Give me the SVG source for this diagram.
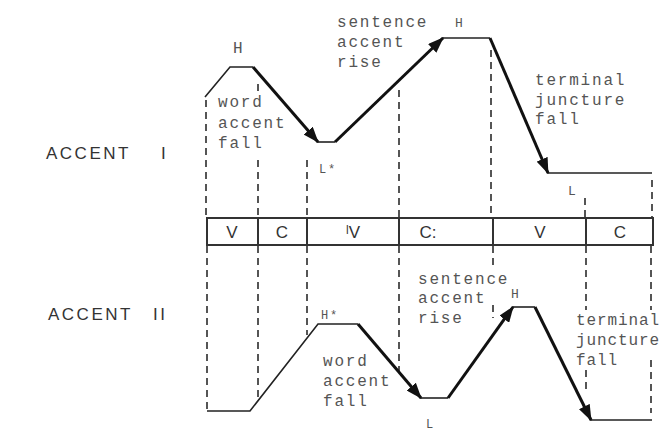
<svg xmlns="http://www.w3.org/2000/svg" width="664" height="432" viewBox="0 0 664 432">
<style>
.lbl{font-family:"Liberation Mono","DejaVu Sans Mono",monospace;font-size:16px;letter-spacing:1.8px;fill:#555}
.tight{letter-spacing:0.9px}
.ttl{font-family:"Liberation Sans",Arial,sans-serif;font-size:17px;letter-spacing:2.5px;fill:#333}
.seg{font-family:"Liberation Sans",Arial,sans-serif;font-size:17px;fill:#333}
.dash{stroke:#555;stroke-width:2;stroke-dasharray:7 5;fill:none}
.contour{stroke:#222;stroke-width:1.6;fill:none}
.arr{stroke:#111;stroke-width:3;fill:none;marker-end:url(#ah)}
.box{stroke:#333;stroke-width:2;fill:none}
</style>
<defs>
<marker id="ah" markerUnits="userSpaceOnUse" markerWidth="16" markerHeight="12" refX="15" refY="6" orient="auto">
<path d="M0,0 L16,6 L0,12 z" fill="#111"/>
</marker>
</defs>
<rect width="664" height="432" fill="#fff"/>

<g id="titles">
<text class="ttl" x="46" y="159">ACCENT</text>
<text class="ttl" x="161" y="159">I</text>
<text class="ttl" x="48" y="320">ACCENT</text>
<text class="ttl" x="153" y="320">II</text>
</g>

<g id="segments">
<rect class="box" x="207" y="218" width="446" height="27"/>
<line class="box" x1="258" y1="218" x2="258" y2="245"/>
<line class="box" x1="307" y1="218" x2="307" y2="245"/>
<line class="box" x1="399" y1="218" x2="399" y2="245"/>
<line class="box" x1="493" y1="218" x2="493" y2="245"/>
<line class="box" x1="586" y1="218" x2="586" y2="245"/>
<text class="seg" x="232" y="238" text-anchor="middle">V</text>
<text class="seg" x="282" y="238" text-anchor="middle">C</text>
<text class="seg" x="353" y="238" text-anchor="middle">ˡV</text>
<text class="seg" x="428" y="238" text-anchor="middle">C:</text>
<text class="seg" x="540" y="238" text-anchor="middle">V</text>
<text class="seg" x="620" y="238" text-anchor="middle">C</text>
</g>

<g id="guides">
<line class="dash" x1="206" y1="100" x2="206" y2="217"/>
<line class="dash" x1="258" y1="84" x2="258" y2="95"/>
<line class="dash" x1="258" y1="160" x2="258" y2="217"/>
<line class="dash" x1="307" y1="160" x2="307" y2="217"/>
<line class="dash" x1="399" y1="90" x2="399" y2="217"/>
<line class="dash" x1="491" y1="50" x2="491" y2="217"/>
<line class="dash" x1="585" y1="198" x2="585" y2="217"/>
<line class="dash" x1="652" y1="180" x2="652" y2="217"/>
<line class="dash" x1="207" y1="246" x2="207" y2="410"/>
<line class="dash" x1="258" y1="246" x2="258" y2="400"/>
<line class="dash" x1="307" y1="246" x2="307" y2="335"/>
<line class="dash" x1="399" y1="246" x2="399" y2="375"/>
<line class="dash" x1="493" y1="246" x2="493" y2="268"/>
<line class="dash" x1="493" y1="305" x2="493" y2="318"/>
<line class="dash" x1="586" y1="246" x2="586" y2="310"/>
<line class="dash" x1="586" y1="370" x2="586" y2="392"/>
<line class="dash" x1="651" y1="246" x2="651" y2="310"/>
<line class="dash" x1="651" y1="360" x2="651" y2="413"/>
</g>

<g id="accent1-contour">
<polyline class="contour" points="205,97 230,67 253,67"/>
<polyline class="contour" points="317,142 335,142"/>
<polyline class="contour" points="442,38 490,38"/>
<polyline class="contour" points="547,173 652,173"/>
</g>
<g id="accent2-contour">
<polyline class="contour" points="207,411 250,411 318,324 358,324"/>
<polyline class="contour" points="420,398 448,398"/>
<polyline class="contour" points="512,307 535,307"/>
<polyline class="contour" points="590,420 652,420"/>
</g>

<g id="connectors">
<line class="arr" x1="253" y1="67" x2="318" y2="142"/>
<line class="arr" x1="335" y1="142" x2="443" y2="38"/>
<line class="arr" x1="490" y1="38" x2="548" y2="173"/>
<line class="arr" x1="358" y1="324" x2="421" y2="398"/>
<line class="arr" x1="448" y1="398" x2="513" y2="307"/>
<line class="arr" x1="535" y1="307" x2="591" y2="420"/>
</g>

<g id="labels1">
<text class="lbl" x="233" y="53">H</text>
<text class="lbl" x="218" y="107">word</text>
<text class="lbl" x="218" y="128">accent</text>
<text class="lbl" x="218" y="148">fall</text>
<text class="lbl" x="319" y="173" style="font-size:12px">L*</text>
<text class="lbl" x="337" y="27">sentence</text>
<text class="lbl" x="337" y="47">accent</text>
<text class="lbl" x="337" y="67">rise</text>
<text class="lbl" x="455" y="27" style="font-size:13px">H</text>
<text class="lbl" x="535" y="85">terminal</text>
<text class="lbl" x="535" y="105">juncture</text>
<text class="lbl" x="535" y="124">fall</text>
<text class="lbl" x="568" y="195" style="font-size:13px">L</text>
</g>
<g id="labels2">
<text class="lbl" x="321" y="319" style="font-size:12px">H*</text>
<text class="lbl" x="323" y="366">word</text>
<text class="lbl" x="323" y="386">accent</text>
<text class="lbl" x="323" y="406">fall</text>
<text class="lbl" x="426" y="428" style="font-size:12px">L</text>
<text class="lbl" x="418" y="284">sentence</text>
<text class="lbl" x="418" y="303">accent</text>
<text class="lbl" x="418" y="323">rise</text>
<text class="lbl" x="511" y="298" style="font-size:13px">H</text>
<text class="lbl tight" x="576" y="325">terminal</text>
<text class="lbl tight" x="576" y="345">juncture</text>
<text class="lbl tight" x="576" y="365">fall</text>
</g>
</svg>
